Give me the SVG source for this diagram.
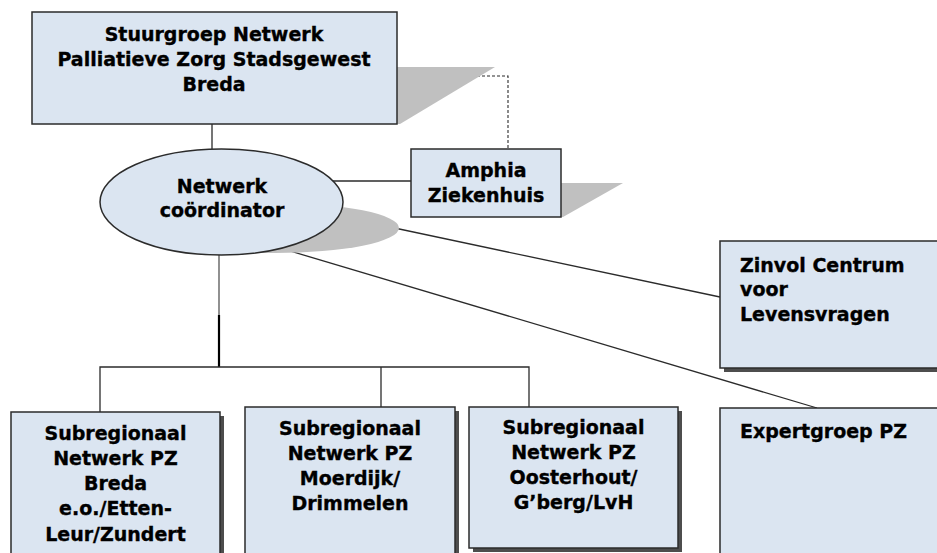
<svg xmlns="http://www.w3.org/2000/svg" width="937" height="553" viewBox="0 0 937 553">
<defs>
<style>
.box{fill:#dbe5f1;stroke:#2b2b2b;stroke-width:1.5}
.shd{fill:#4d4d4d}
.psh{fill:#c0c0c0}
.ln{stroke:#2b2b2b;stroke-width:1.3;fill:none}
.t{font-family:"DejaVu Sans","Liberation Sans",sans-serif;font-weight:bold;font-size:19px;fill:#000;stroke:#000;stroke-width:0.35}
.c{text-anchor:middle}
</style>
</defs>
<rect width="937" height="553" fill="#fff"/>
<g id="connectors">
<line class="ln" x1="212" y1="124" x2="212" y2="149"/>
<polyline class="ln" points="397,76 508,76 508,149" stroke-dasharray="3,2" style="stroke-width:1.1"/>
<line class="ln" x1="333" y1="181" x2="411" y2="181"/>
<line class="ln" x1="338" y1="216" x2="720" y2="297"/>
<line class="ln" x1="280" y1="248" x2="817" y2="408"/>
<line class="ln" x1="219" y1="255" x2="219" y2="316" style="stroke:#555"/>
<line class="ln" x1="219" y1="315" x2="219" y2="367" style="stroke:#000;stroke-width:2.2"/>
<polyline class="ln" points="100,412 100,367 529,367 529,407"/>
<line class="ln" x1="381" y1="367" x2="381" y2="407"/>
</g>
<g id="stuurgroep">
<polygon class="psh" points="390,67 495,67 400,124 390,124"/>
<rect class="box" x="32" y="12" width="365" height="112"/>
<text class="t c" x="214" y="41">Stuurgroep Netwerk</text>
<text class="t c" x="214" y="66">Palliatieve Zorg Stadsgewest</text>
<text class="t c" x="214" y="91">Breda</text>
</g>
<g id="coordinator">
<ellipse class="psh" cx="275" cy="228" rx="124" ry="25"/>
<ellipse class="box" cx="221.5" cy="202" rx="121.5" ry="53"/>
<text class="t c" x="222" y="193">Netwerk</text>
<text class="t c" x="222" y="217">coördinator</text>
</g>
<g id="amphia">
<polygon class="psh" points="555,183 623,183 563,217 555,217"/>
<rect class="box" x="411" y="149" width="150" height="68"/>
<text class="t c" x="486" y="177">Amphia</text>
<text class="t c" x="486" y="202">Ziekenhuis</text>
</g>
<g id="zinvol">
<rect class="shd" x="724" y="245" width="230" height="127"/>
<rect class="box" x="720" y="241" width="230" height="127"/>
<text class="t" x="740" y="272">Zinvol Centrum</text>
<text class="t" x="740" y="296">voor</text>
<text class="t" x="740" y="321">Levensvragen</text>
</g>
<g id="expertgroep">
<rect class="shd" x="724" y="412" width="230" height="160"/>
<rect class="box" x="720" y="408" width="230" height="160"/>
<text class="t" x="740" y="438">Expertgroep PZ</text>
</g>
<g id="breda">
<rect class="shd" x="15" y="416" width="209" height="160"/>
<rect class="box" x="11" y="412" width="209" height="160"/>
<text class="t c" x="115.5" y="440">Subregionaal</text>
<text class="t c" x="115.5" y="465">Netwerk PZ</text>
<text class="t c" x="115.5" y="490">Breda</text>
<text class="t c" x="115.5" y="515">e.o./Etten-</text>
<text class="t c" x="115.5" y="541">Leur/Zundert</text>
</g>
<g id="moerdijk">
<rect class="shd" x="249" y="411" width="210" height="160"/>
<rect class="box" x="245" y="407" width="210" height="160"/>
<text class="t c" x="350" y="435">Subregionaal</text>
<text class="t c" x="350" y="460">Netwerk PZ</text>
<text class="t c" x="350" y="485">Moerdijk/</text>
<text class="t c" x="350" y="510">Drimmelen</text>
</g>
<g id="oosterhout">
<rect class="shd" x="473" y="411" width="209" height="141"/>
<rect class="box" x="469" y="407" width="209" height="141"/>
<text class="t c" x="573.5" y="434">Subregionaal</text>
<text class="t c" x="573.5" y="459">Netwerk PZ</text>
<text class="t c" x="573.5" y="484">Oosterhout/</text>
<text class="t c" x="573.5" y="509">G’berg/LvH</text>
</g>
</svg>
